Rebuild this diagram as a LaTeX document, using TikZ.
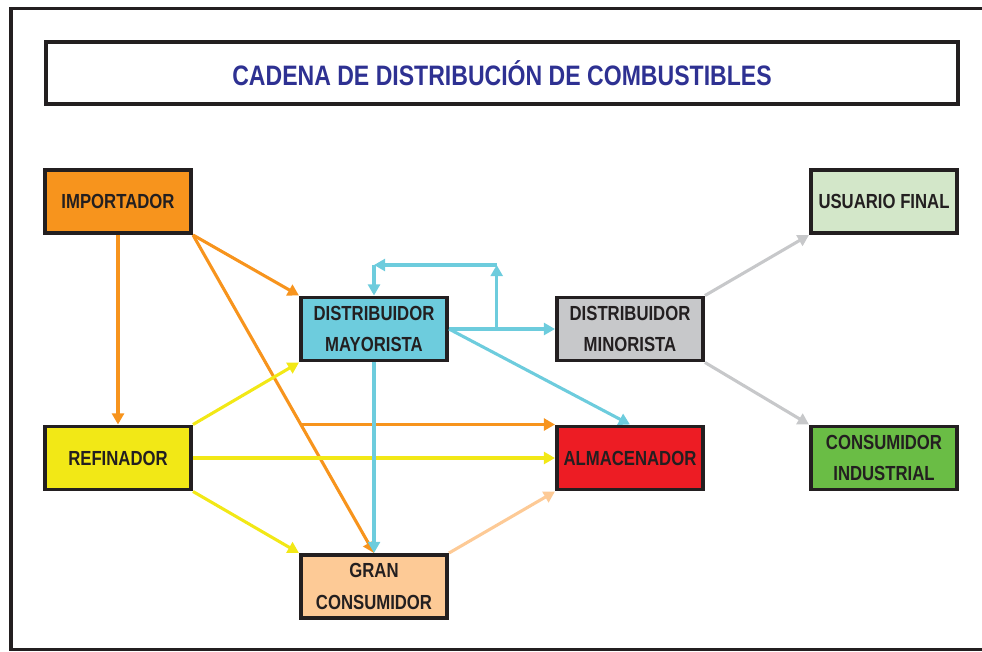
\documentclass[tikz,border=0pt]{standalone}
\usepackage{fontspec}
\usepackage{xcolor}
\usepackage{tikz}
\usetikzlibrary{arrows.meta,calc}
\newfontfamily\boxfont[FakeStretch=0.82]{Liberation Sans}
\definecolor{ink}{HTML}{231F20}
\definecolor{titleblue}{HTML}{2E3192}
\definecolor{imporange}{HTML}{F7941D}
\definecolor{refyellow}{HTML}{F2E816}
\definecolor{maycyan}{HTML}{6DCCDD}
\definecolor{mingray}{HTML}{C7C8CA}
\definecolor{almred}{HTML}{ED1C24}
\definecolor{granpeach}{HTML}{FDCA96}
\definecolor{usugreen}{HTML}{D3E7C9}
\definecolor{indgreen}{HTML}{6ABD45}
\tikzset{
  box/.style={draw=ink,line width=2.8pt,minimum width=3.65cm,minimum height=1.575cm,
    inner sep=2pt,align=center,text=ink,
    font=\boxfont\bfseries\fontsize{14.5}{22.7}\selectfont},
  headbox/.style={draw=ink,line width=2.8pt,minimum width=22.8cm,minimum height=1.55cm,
    text=titleblue,font=\boxfont\bfseries\fontsize{20}{24}\selectfont},
  arr/.style={-{Triangle[length=2.8mm,width=3mm]},line width=2.2pt}
}

\begin{document}
\begin{tikzpicture}[x=0.025cm,y=-0.025cm]
 \useasboundingbox (0,0) rectangle (982,652);
 \draw[ink,line width=2.8pt] (982,8.5) -- (11,8.5) -- (11,649.5) -- (982,649.5);
 \node[headbox] (title) at (502,73) {CADENA DE DISTRIBUCIÓN DE COMBUSTIBLES};
 \node[box,fill=imporange] (imp) at (118,201.5) {IMPORTADOR};
 \node[box,fill=refyellow] (ref) at (118,458) {REFINADOR};
 \node[box,fill=maycyan] (may) at (374,329) {DISTRIBUIDOR\\MAYORISTA};
 \node[box,fill=mingray] (min) at (630,329) {DISTRIBUIDOR\\MINORISTA};
 \node[box,fill=almred] (alm) at (630,458) {ALMACENADOR};
 \node[box,fill=granpeach] (gran) at (374,586.5) {GRAN\\CONSUMIDOR};
 \node[box,fill=usugreen] (usu) at (884,201.5) {USUARIO FINAL};
 \node[box,fill=indgreen] (ind) at (884,458) {CONSUMIDOR\\INDUSTRIAL};
 \draw[arr,imporange] (imp.south) -- (ref.north);
 \draw[arr,imporange] (imp.south east) -- (may.north west);
 \draw[arr,imporange] (imp.south east) -- coordinate[pos=0.6] (br) (gran.north);
 \draw[arr,imporange] (alm.north west -| br) -- (alm.north west);
 \draw[arr,refyellow] (ref.north east) -- (may.south west);
 \draw[arr,refyellow] (ref.east) -- (alm.west);
 \draw[arr,refyellow] (ref.south east) -- (gran.north west);
 \draw[arr,maycyan] (may.south) -- (gran.north);
 \draw[arr,maycyan] (may.east) -- coordinate[pos=0.45] (lp) (min.west);
 \coordinate (lt) at ($(lp)+(0,-64)$);
 \coordinate (lq) at (may.north |- lt);
 \draw[arr,maycyan] (lp) -- (lt);
 \draw[arr,maycyan] (lt) -- (lq);
 \draw[arr,maycyan] (lq) -- (may.north);
 \draw[arr,maycyan] (may.east) -- (alm.north);
 \draw[arr,granpeach] (gran.north east) -- (alm.south west);
 \draw[arr,mingray] (min.north east) -- (usu.south west);
 \draw[arr,mingray] (min.south east) -- (ind.north west);
\end{tikzpicture}
\end{document}
